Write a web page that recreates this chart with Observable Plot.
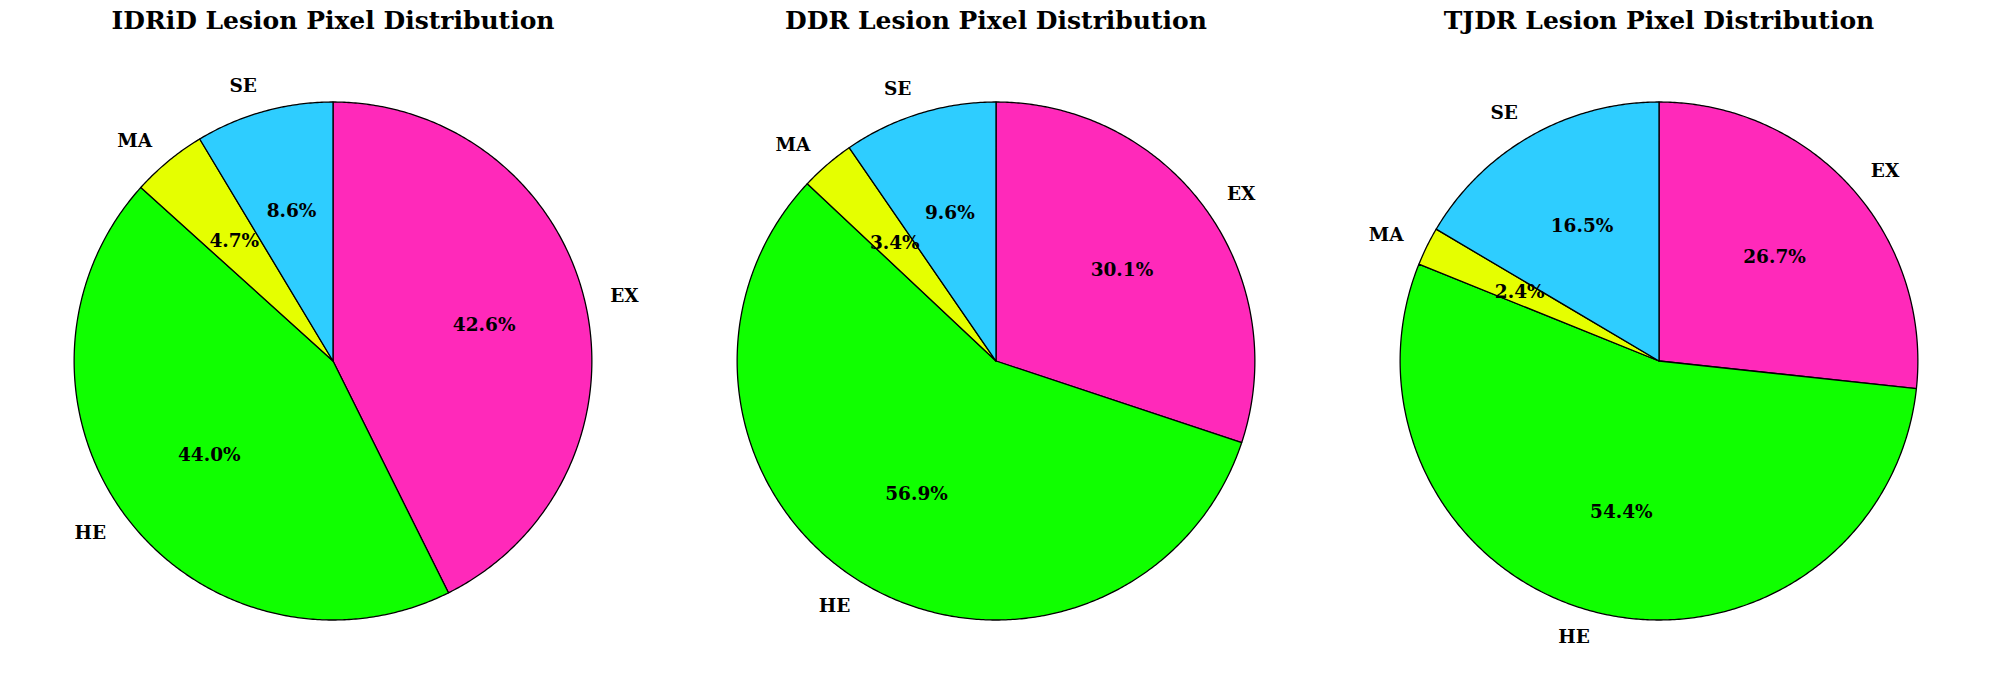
<!DOCTYPE html>
<html><head><meta charset="utf-8">
<script src="https://cdn.jsdelivr.net/npm/d3@7"></script>
<script src="https://cdn.jsdelivr.net/npm/@observablehq/plot@0.6"></script>
<style>body{margin:0;background:#fff}</style>
</head><body><div id="chart"></div>
<script>
const datasets = ["IDRiD", "DDR", "TJDR"];
const titles = ["IDRiD Lesion Pixel Distribution", "DDR Lesion Pixel Distribution", "TJDR Lesion Pixel Distribution"];
const categories = ["EX", "HE", "MA", "SE"];
const colors = ["#ff29ba", "#10ff00", "#e5ff00", "#2ecdff"];
const idridValues = [42.6, 44.0, 4.7, 8.6];
const ddrValues = [30.1, 56.9, 3.4, 9.6];
const tjdrValues = [26.7, 54.4, 2.4, 16.5];
const valuesByDataset = [idridValues, ddrValues, tjdrValues];

const wedges = [], pctLabels = [], catLabels = [];
datasets.forEach((ds, i) => {
  const vals = valuesByDataset[i];
  const total = d3.sum(vals);
  let start = 90;
  vals.forEach((v, j) => {
    const cat = categories[j];
    const span = v / total * 360;
    const end = start - span;
    const n = Math.max(2, Math.ceil(span * 2));
    const key = ds + "-" + cat;
    wedges.push({ds, cat, key, px: 0, py: 0});
    for (let k = 0; k <= n; k++) {
      const a = (start - span * k / n) * Math.PI / 180;
      wedges.push({ds, cat, key, px: Math.cos(a), py: Math.sin(a)});
    }
    wedges.push({ds, cat, key, px: 0, py: 0});
    const mid = (start + end) / 2 * Math.PI / 180;
    pctLabels.push({ds, px: 0.6 * Math.cos(mid), py: 0.6 * Math.sin(mid), text: (v / total * 100).toFixed(1) + "%"});
    catLabels.push({ds, px: 1.1 * Math.cos(mid), py: 1.1 * Math.sin(mid), text: cat, side: Math.cos(mid) > 0 ? "left" : "right"});
    start = end;
  });
});
const titleRows = datasets.map((ds, i) => ({ds, title: titles[i]}));

const chart = Plot.plot({
  width: 1990, height: 694,
  marginTop: 0, marginBottom: 0, marginLeft: 0, marginRight: 0,
  fx: {domain: datasets, padding: 0, axis: null},
  x: {domain: [-1.2806, 1.2806], axis: null},
  y: {domain: [-1.2876, 1.3919], axis: null},
  color: {domain: categories, range: colors},
  style: {fontFamily: "DejaVu Serif", fontWeight: "bold", background: "#fff"},
  marks: [
    Plot.line(wedges, {fx: "ds", x: "px", y: "py", z: "key", fill: "cat", stroke: "black", strokeWidth: 1.3, curve: "linear"}),
    Plot.text(pctLabels, {fx: "ds", x: "px", y: "py", text: "text", fontSize: 18.5, fill: "black"}),
    Plot.text(catLabels.filter(d => d.side === "left"), {fx: "ds", x: "px", y: "py", text: "text", fontSize: 18.5, fill: "black", textAnchor: "start"}),
    Plot.text(catLabels.filter(d => d.side === "right"), {fx: "ds", x: "px", y: "py", text: "text", fontSize: 18.5, fill: "black", textAnchor: "end"}),
    Plot.text(titleRows, {fx: "ds", text: "title", frameAnchor: "top", lineAnchor: "top", dy: 10.5, fontSize: 25, fill: "black"})
  ]
});
document.getElementById("chart").append(chart);
</script>
</body></html>
